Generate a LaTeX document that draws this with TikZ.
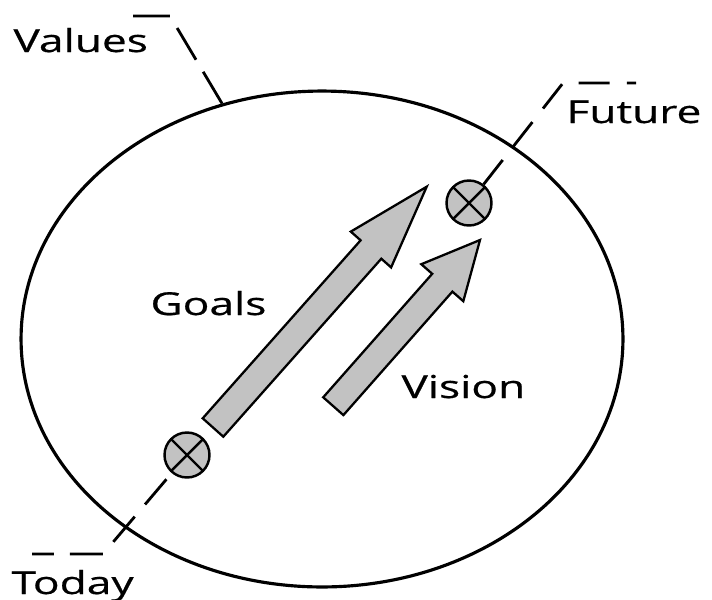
\documentclass[tikz,border=0pt]{standalone}
\usepackage{fontspec}
\setmainfont{Open Sans}
\usepackage{tikz}
\usetikzlibrary{shapes.geometric}

\definecolor{shaft}{RGB}{194,194,194}

\begin{document}
\begin{tikzpicture}[
  x=0.02cm, y=-0.02cm,
  ring/.style   = {draw, ellipse, line width=1.8pt, inner sep=0pt,
                   minimum width=12.04cm, minimum height=9.92cm},
  marker/.style = {draw, circle, line width=1.4pt, fill=shaft, inner sep=0pt,
                   minimum size=0.9cm,
                   path picture={\draw[line width=1.4pt]
                     (path picture bounding box.north west) -- (path picture bounding box.south east)
                     (path picture bounding box.south west) -- (path picture bounding box.north east);}},
  leader/.style = {line width=1.6pt, dash pattern=on 18pt off 9pt},
  fat/.style    = {draw, line width=1.3pt, fill=shaft, line join=miter},
  lbl/.style    = {font=\fontsize{18}{20}\selectfont\addfontfeatures{FakeBold=0.5},
                   inner sep=0pt, anchor=base west, xscale=1.4},
]
\useasboundingbox (0,0) rectangle (712,599);

\node[ring] (ring) at (322,339) {};

% start and end points
\node[marker] (now)   at (187,455) {};
\node[marker] (later) at (469,203) {};

% the two block arrows
\draw[fat] (202.7,418.3) -- (360.6,240.3) -- (350.8,231.6) -- (426.7,186.7)
        -- (391.1,267.4) -- (381.3,258.7) -- (223.3,436.7) -- cycle;
\draw[fat] (323.2,397.3) -- (432.2,273.8) -- (421.3,264.2) -- (480,240)
        -- (463.3,301.2) -- (452.4,291.6) -- (343.4,415.1) -- cycle;

% dashed leaders
\draw[leader, dash pattern=on 21pt off 8pt] (ring.113) -- (170,16) -- (132,16);
\draw[leader, dash pattern=on 17.6pt off 9.8pt] (later) -- (563,83) -- (636,83);
\draw[leader, dash pattern=on 18.8pt off 9.1pt, dash phase=23.3pt]
  (now) -- (103,554) -- (32,554);

\node[lbl] (values) at (13,52)   {Values};
\node[lbl] (future) at (566,123) {Future};
\node[lbl] (today)  at (11,594)  {Today};
\node[lbl] (goals)  at (150,315) {Goals};
\node[lbl] (vision) at (401,398) {Vision};

\end{tikzpicture}
\end{document}
